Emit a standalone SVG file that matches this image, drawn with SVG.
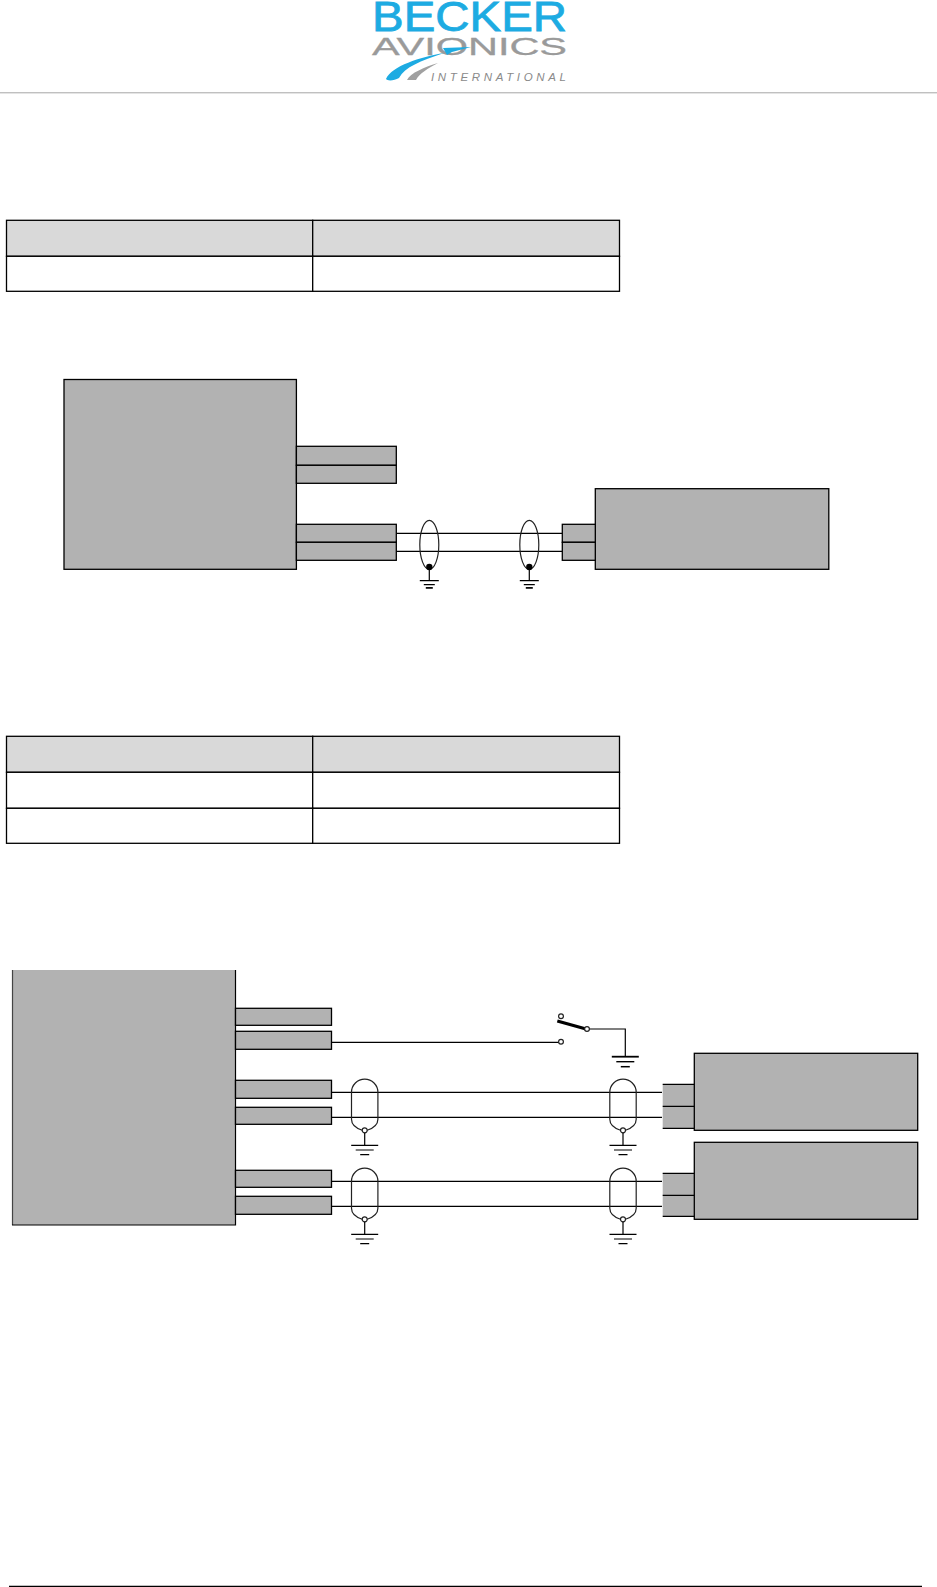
<svg xmlns="http://www.w3.org/2000/svg" width="937" height="1587" viewBox="0 0 937 1587">
<style>
.box{fill:#b2b2b2;stroke:#000;stroke-width:1.3}
.fill{fill:#b2b2b2}
.hd{fill:#d9d9d9;stroke:#000;stroke-width:1.3}
.cell{fill:#fff;stroke:#000;stroke-width:1.3}
.w{fill:none;stroke:#000;stroke-width:1.2}
.sh{fill:none;stroke:#222;stroke-width:1.2}
.oc{fill:#fff;stroke:#222;stroke-width:1.2}
.logo{font-family:"Liberation Sans",Arial,sans-serif}
</style>
<defs>
<g id="gnd"><path class="w" d="M-9.5 0H9.5M-5.5 4H5.5"/><path d="M-3.5 7.2H3.5" stroke="#000" stroke-width="1.7"/></g>
<g id="gndt"><path class="w" d="M-13.5 0H13.5M-9 4.7H9M-4.5 9.4H4.5"/></g>
<g id="gndw"><path d="M-13.5 0H13.5" stroke="#000" stroke-width="1.8"/><path d="M-9 5H9" stroke="#000" stroke-width="1.4"/><path d="M-4.5 10H4.5" stroke="#000" stroke-width="1.5"/></g>
<path id="cap" class="sh" d="M-13.2 13A13.2 13.2 0 0 1 13.2 13V40C13.2 46 7 49.5 2.5 51H-2.5C-7 49.5 -13.2 46 -13.2 40Z"/>
</defs>
<g id="logo">
<text class="logo" x="372" y="31" font-size="42" fill="#1dabe2" stroke="#1dabe2" stroke-width=".8" textLength="195" lengthAdjust="spacingAndGlyphs">BECKER</text>
<text class="logo" x="372" y="55" font-size="24" fill="#9a9a9a" stroke="#9a9a9a" stroke-width=".3" textLength="195" lengthAdjust="spacingAndGlyphs">AVIONICS</text>
<path d="M386 79C392 66 420 57 444 53C420 61 405 67 399 78C394 81 387 81 386 79Z" fill="#1dabe2"/>
<path d="M407 80C410 73 425 67 438 63C428 68 419 74 416 80Z" fill="#a0a0a0"/>
<path d="M443 48L471 47L452 52L447 55Z" fill="#1dabe2"/>
<text class="logo" x="431" y="80.5" font-size="11.5" font-style="italic" fill="#8a8a8a" textLength="135">INTERNATIONAL</text>
</g>
<path id="header-rule" d="M0 92.8H937" stroke="#a6a6a6" stroke-width="1"/>
<path id="footer-rule" d="M9 1586.3H922" stroke="#000" stroke-width="1.2"/>
<g id="table-1">
<rect class="hd" x="6.5" y="220.3" width="306.2" height="36"/>
<rect class="hd" x="312.7" y="220.3" width="306.8" height="36"/>
<rect class="cell" x="6.5" y="256.3" width="306.2" height="35"/>
<rect class="cell" x="312.7" y="256.3" width="306.8" height="35"/>
</g>
<g id="table-2">
<rect class="hd" x="6.5" y="736.3" width="306.2" height="36"/>
<rect class="hd" x="312.7" y="736.3" width="306.8" height="36"/>
<rect class="cell" x="6.5" y="772.3" width="306.2" height="36"/>
<rect class="cell" x="312.7" y="772.3" width="306.8" height="36"/>
<rect class="cell" x="6.5" y="808.3" width="306.2" height="35"/>
<rect class="cell" x="312.7" y="808.3" width="306.8" height="35"/>
</g>
<g id="connectors">
<path class="w" d="M396.3 533.3H562.3M396.3 551.3H562.3"/>
<path class="w" d="M331.5 1042.3H559M331.5 1092.4H662M331.5 1117.3H662M331.5 1181.3H662M331.5 1206.3H662"/>
<path class="w" d="M587 1029H625.3V1056.7"/>
<path d="M557.3 1021L586 1029" stroke="#000" stroke-width="3.2"/>
</g>
<g id="unit-a"><rect class="box" x="64" y="379.5" width="232.4" height="189.8"/></g>
<g id="unit-a-pins">
<rect class="box" x="296.4" y="446.3" width="99.9" height="19"/>
<rect class="box" x="296.4" y="465.3" width="99.9" height="18"/>
<rect class="box" x="296.4" y="524.3" width="99.9" height="18"/>
<rect class="box" x="296.4" y="542.3" width="99.9" height="18"/>
</g>
<g id="unit-b">
<rect class="box" x="595.3" y="488.7" width="233.5" height="80.6"/>
<rect class="box" x="562.3" y="524.3" width="33" height="18"/>
<rect class="box" x="562.3" y="542.3" width="33" height="18"/>
</g>
<g id="shield-1">
<ellipse class="sh" cx="429.3" cy="544.8" rx="9.5" ry="24.5"/>
<circle cx="429.3" cy="567" r="3.2"/>
<path class="w" d="M429.3 567V580.3"/>
<use href="#gnd" x="429.3" y="580.7"/>
</g>
<g id="shield-2">
<ellipse class="sh" cx="529.3" cy="544.8" rx="9.5" ry="24.5"/>
<circle cx="529.3" cy="567" r="3.2"/>
<path class="w" d="M529.3 567V580.3"/>
<use href="#gnd" x="529.3" y="580.7"/>
</g>
<g id="unit-c">
<path class="fill" d="M12.5 970H235.5V1225H12.5Z"/>
<path fill="none" stroke="#444" stroke-width="1.2" d="M12.5 970V1225"/>
<path class="w" d="M12 1225H235.5V970"/>
<rect class="box" x="235.5" y="1008.3" width="96" height="17"/>
<rect class="box" x="235.5" y="1031.3" width="96" height="18"/>
<rect class="box" x="235.5" y="1080.3" width="96" height="18"/>
<rect class="box" x="235.5" y="1107.3" width="96" height="17"/>
<rect class="box" x="235.5" y="1170.3" width="96" height="17"/>
<rect class="box" x="235.5" y="1196.3" width="96" height="18"/>
</g>
<g id="switch">
<circle class="oc" cx="561" cy="1016.3" r="2.4"/>
<circle class="oc" cx="561" cy="1041.8" r="2.4"/>
<circle class="oc" cx="587" cy="1029" r="2.4"/>
<use href="#gndw" x="625.3" y="1056.7"/>
</g>
<g id="unit-d">
<rect class="fill" x="662.7" y="1084.3" width="31.6" height="44"/>
<path class="w" d="M662.7 1084.3H694.3M662.7 1106.3H694.3M662.7 1128.3H694.3"/>
<rect class="box" x="694.3" y="1053.3" width="223.4" height="77"/>
</g>
<g id="unit-e">
<rect class="fill" x="662.7" y="1173.3" width="31.6" height="43"/>
<path class="w" d="M662.7 1173.3H694.3M662.7 1195.3H694.3M662.7 1216.3H694.3"/>
<rect class="box" x="694.3" y="1142.3" width="223.4" height="77"/>
</g>
<g id="shield-3" transform="translate(364.7 1079.3)"><use href="#cap"/><circle class="oc" cx="0" cy="51" r="2.5"/><path class="w" d="M0 53.5V66"/><use href="#gndt" y="66"/></g>
<g id="shield-4" transform="translate(623 1079.3)"><use href="#cap"/><circle class="oc" cx="0" cy="51" r="2.5"/><path class="w" d="M0 53.5V66"/><use href="#gndt" y="66"/></g>
<g id="shield-5" transform="translate(364.7 1168.3)"><use href="#cap"/><circle class="oc" cx="0" cy="51" r="2.5"/><path class="w" d="M0 53.5V66"/><use href="#gndt" y="66"/></g>
<g id="shield-6" transform="translate(623 1168.3)"><use href="#cap"/><circle class="oc" cx="0" cy="51" r="2.5"/><path class="w" d="M0 53.5V66"/><use href="#gndt" y="66"/></g>
</svg>
